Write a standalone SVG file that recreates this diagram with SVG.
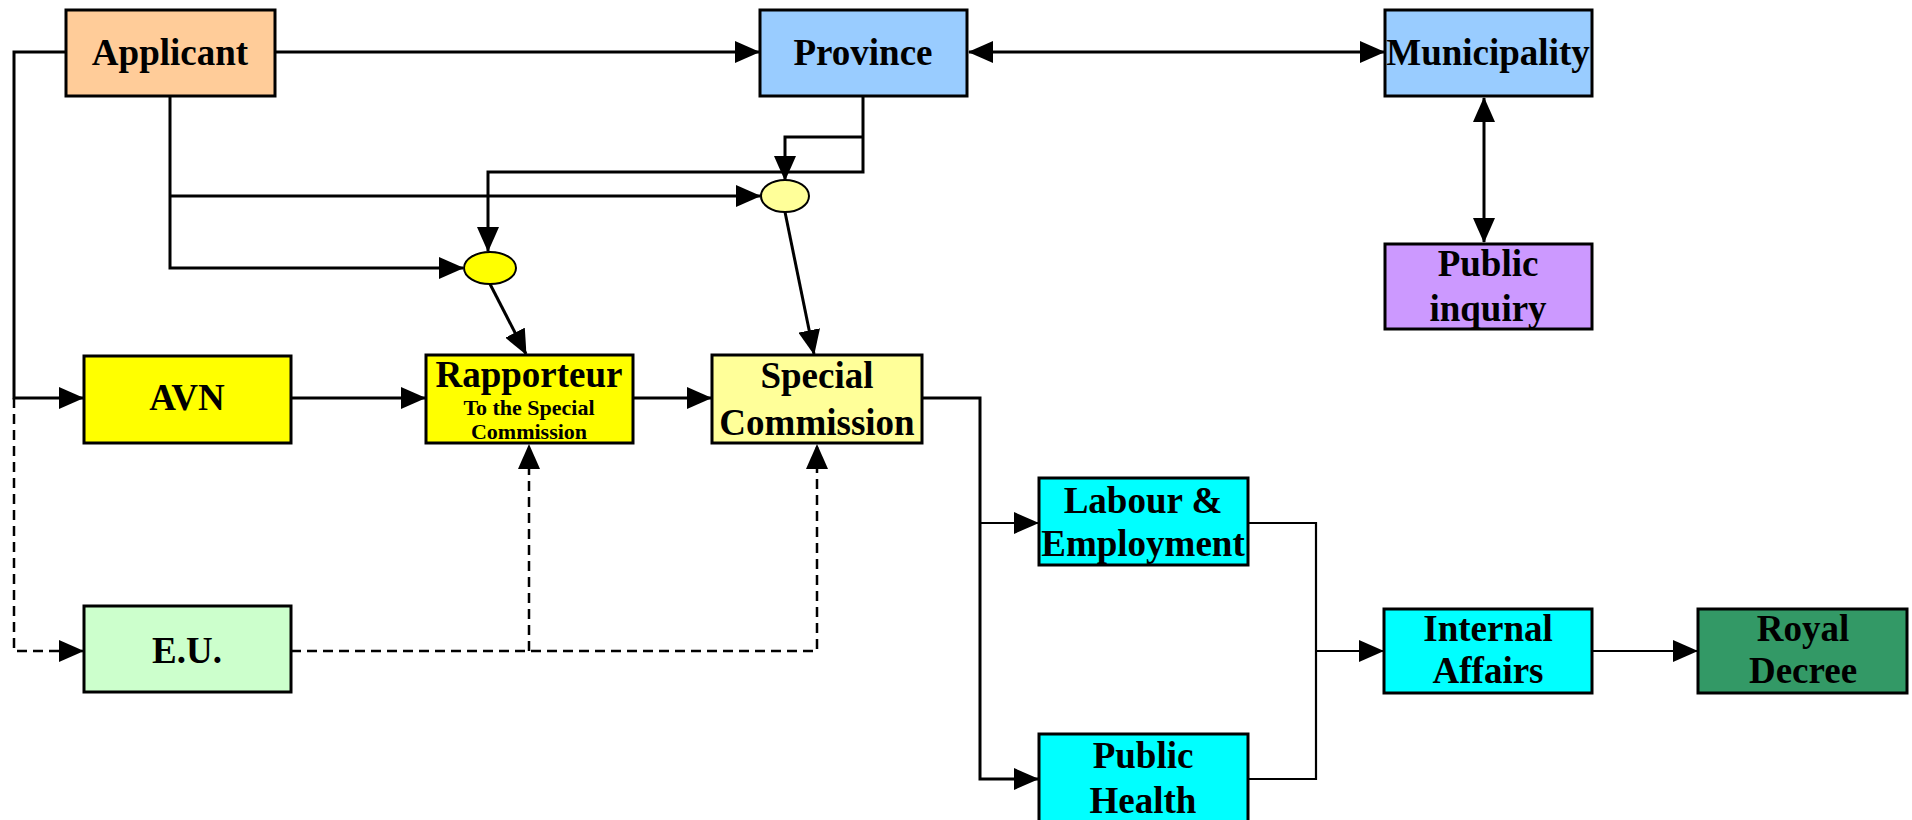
<svg xmlns="http://www.w3.org/2000/svg" width="1912" height="820" viewBox="0 0 1912 820">
<defs>
<style>
.box{stroke:#000;stroke-width:3}
.t{font-family:"Liberation Serif","Times New Roman",serif;font-weight:bold;font-size:37px;text-anchor:middle;fill:#000}
.ts{font-size:22px}
.ln{fill:none;stroke:#000;stroke-width:3}
.thin{stroke-width:2.2}
.dash{fill:none;stroke:#000;stroke-width:2.5;stroke-dasharray:10,6}
.ov{stroke:#000;stroke-width:2}
</style>
<marker id="ah" markerUnits="userSpaceOnUse" markerWidth="25" markerHeight="22" refX="24" refY="11" orient="auto-start-reverse">
<path d="M0,0 L25,11 L0,22 z" fill="#000"/>
</marker>
</defs>
<rect width="1912" height="820" fill="#fff"/>

<g id="connectors">
<path class="ln" d="M275,52 H759" marker-end="url(#ah)"/>
<path class="ln" d="M969,52 H1384" marker-start="url(#ah)" marker-end="url(#ah)"/>
<path class="ln" d="M1484,98 V242" marker-start="url(#ah)" marker-end="url(#ah)"/>
<path class="ln" d="M66,52 H14 V398 H83" marker-end="url(#ah)"/>
<path class="dash" d="M14,398 V651 H83" marker-end="url(#ah)"/>
<path class="ln" d="M170,96 V268 H463" marker-end="url(#ah)"/>
<path class="ln" d="M170,196 H760" marker-end="url(#ah)"/>
<path class="ln" d="M863,96 V172 H488 V251" marker-end="url(#ah)"/>
<path class="ln" d="M863,137 H785 V180" marker-end="url(#ah)"/>
<path class="ln" d="M490,284 L526,354" marker-end="url(#ah)"/>
<path class="ln" d="M785,212 L814,354" marker-end="url(#ah)"/>
<path class="ln" d="M291,398 H425" marker-end="url(#ah)"/>
<path class="ln" d="M633,398 H711" marker-end="url(#ah)"/>
<path class="dash" d="M291,651 H817 V445" marker-end="url(#ah)"/>
<path class="dash" d="M529,651 V445" marker-end="url(#ah)"/>
<path class="ln" d="M922,398 H980 V779 H1038" marker-end="url(#ah)"/>
<path class="ln thin" d="M980,523 H1038" marker-end="url(#ah)"/>
<path class="ln thin" d="M1248,523 H1316 V779 H1248"/>
<path class="ln thin" d="M1316,651 H1383" marker-end="url(#ah)"/>
<path class="ln thin" d="M1592,651 H1697" marker-end="url(#ah)"/>
</g>

<g id="applicant">
<rect class="box" x="66" y="10" width="209" height="86" fill="#FFCC99"/>
<text class="t" x="170" y="65">Applicant</text>
</g>
<g id="province">
<rect class="box" x="760" y="10" width="207" height="86" fill="#99CCFF"/>
<text class="t" x="863" y="65">Province</text>
</g>
<g id="municipality">
<rect class="box" x="1385" y="10" width="207" height="86" fill="#99CCFF"/>
<text class="t" x="1488" y="65">Municipality</text>
</g>
<g id="public-inquiry">
<rect class="box" x="1385" y="244" width="207" height="85" fill="#CC99FF"/>
<text class="t" x="1488" y="276">Public</text>
<text class="t" x="1488" y="321">inquiry</text>
</g>
<g id="junction-1">
<ellipse class="ov" cx="490" cy="268" rx="26" ry="16" fill="#FFFF00"/>
</g>
<g id="junction-2">
<ellipse class="ov" cx="785" cy="196" rx="24" ry="16" fill="#FFFF99"/>
</g>
<g id="avn">
<rect class="box" x="84" y="356" width="207" height="87" fill="#FFFF00"/>
<text class="t" x="187" y="410">AVN</text>
</g>
<g id="rapporteur">
<rect class="box" x="426" y="355" width="207" height="88" fill="#FFFF00"/>
<text class="t" x="529" y="387">Rapporteur</text>
<text class="t ts" x="529" y="415">To the Special</text>
<text class="t ts" x="529" y="439">Commission</text>
</g>
<g id="special-commission">
<rect class="box" x="712" y="355" width="210" height="88" fill="#FFFF99"/>
<text class="t" x="817" y="388">Special</text>
<text class="t" x="817" y="435">Commission</text>
</g>
<g id="eu">
<rect class="box" x="84" y="606" width="207" height="86" fill="#CCFFCC"/>
<text class="t" x="187" y="663">E.U.</text>
</g>
<g id="labour">
<rect class="box" x="1039" y="478" width="209" height="87" fill="#00FFFF"/>
<text class="t" x="1143" y="513">Labour &amp;</text>
<text class="t" x="1143" y="556">Employment</text>
</g>
<g id="public-health">
<rect class="box" x="1039" y="734" width="209" height="100" fill="#00FFFF"/>
<text class="t" x="1143" y="768">Public</text>
<text class="t" x="1143" y="813">Health</text>
</g>
<g id="internal-affairs">
<rect class="box" x="1384" y="609" width="208" height="84" fill="#00FFFF"/>
<text class="t" x="1488" y="641">Internal</text>
<text class="t" x="1488" y="683">Affairs</text>
</g>
<g id="royal-decree">
<rect class="box" x="1698" y="609" width="209" height="84" fill="#339966"/>
<text class="t" x="1803" y="641">Royal</text>
<text class="t" x="1803" y="683">Decree</text>
</g>
</svg>
